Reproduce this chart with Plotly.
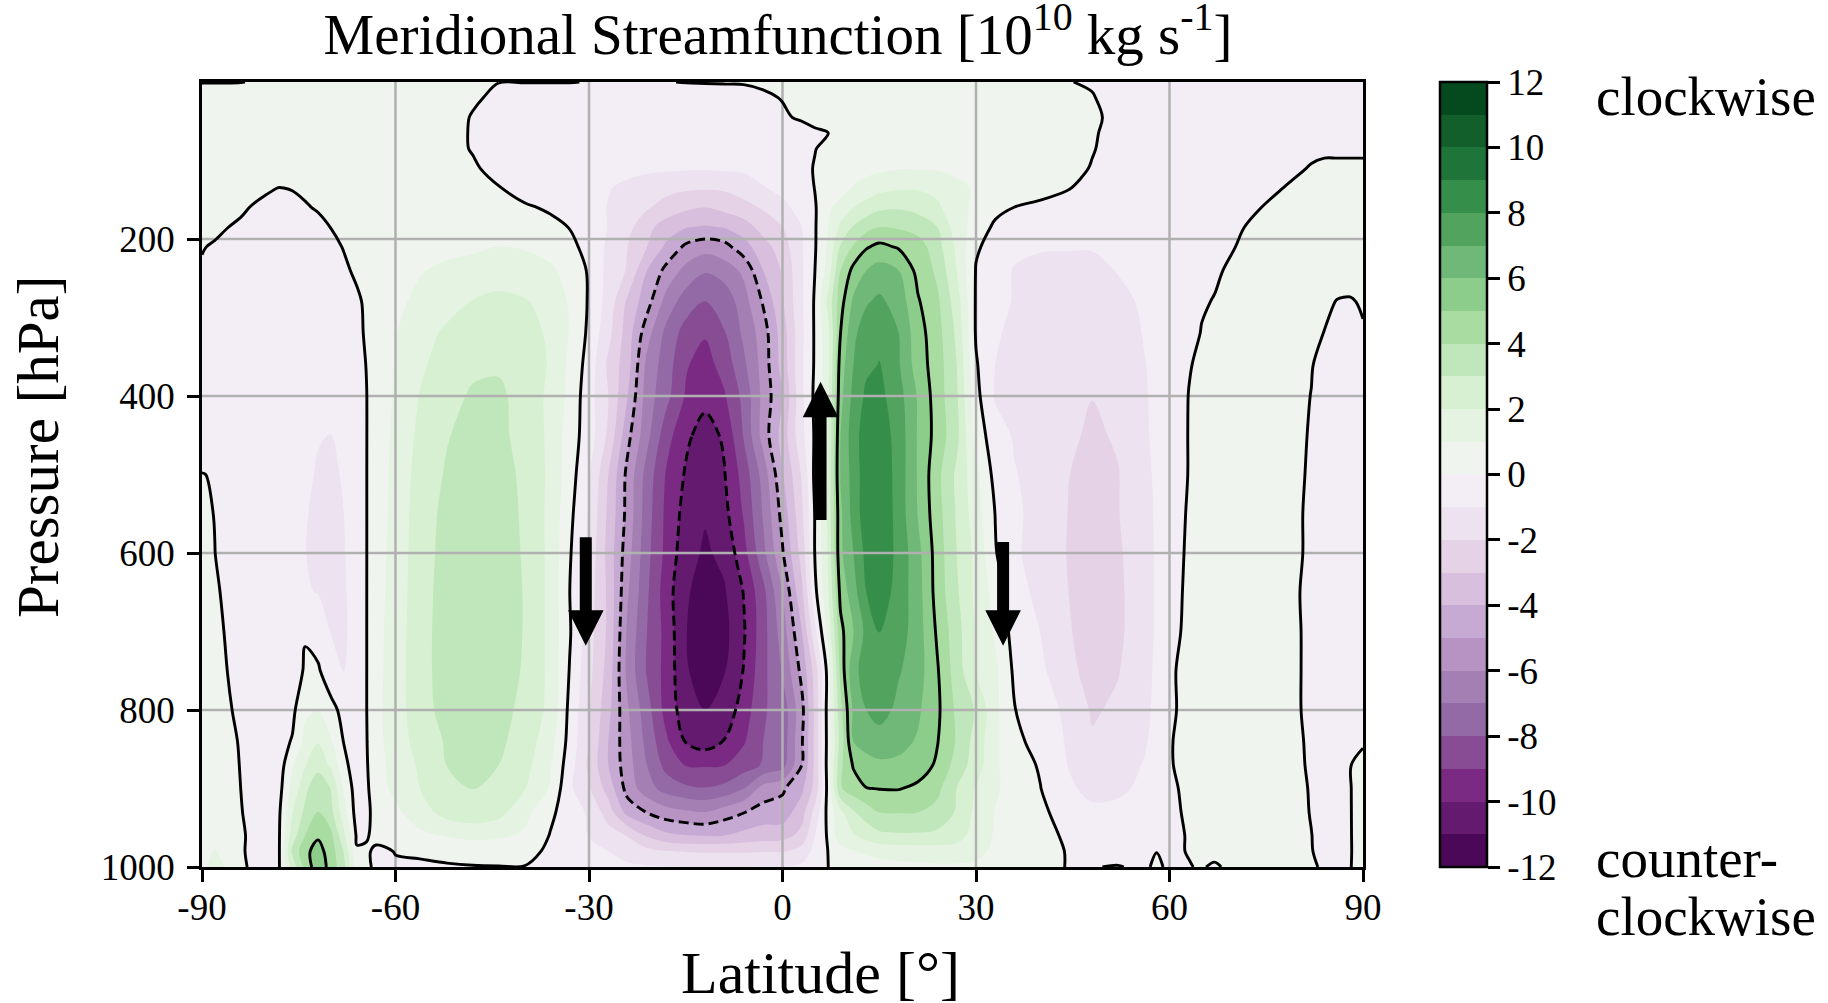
import plotly.graph_objects as go

lat = [-90,-88,-86,-84,-82,-80,-78,-76,-74,-72,-70,-68,-66,-64.5,-63,-60,
       -56,-52,-48,-44,-40,-36,-33,-30,
       -27,-24,-21,-18,-15,-12,-9,-6,-3,0,3,5,7,
       9,11,13,15,18,21,24,27,30,33,36,
       40,44,48,52,56,58,60,63,65,67,70,74,78,82,84,86,88,90]
pressure = [0,20,45,65,85,110,135,160,185,210,240,280,320,360,400,450,500,550,600,650,700,750,800,840,870,900,930,960,980,1000]

psi_0 = [-.02,-.02,-.02,-.01,.02,.05,.05,.05,.05,.05,.05,.05,.05,.05,.05,.05, .05,.05,.1,.01,.01,.01,.01,-.01, -.02,-.02,-.02,-.01,.01,.02,.03,.04,.1,.3,.3,.3,.3, .3,.3,.3,.3,.3,.3,.3,.3,.3,.3,.3, .2,.02,-.05,-.05,-.05,-.05,-.05,-.05,-.05,-.05,-.05,-.05,-.05,-.05,-.05,-.05,-.05,-.05]
psi_20 = [.3,.3,.3,.3,.3,.3,.3,.3,.3,.3,.3,.3,.3,.3,.3,.3, .3,.25,.1,-.15,-.2,-.2,-.2,-.2, -.2,-.2,-.2,-.2,-.2,-.2,-.2,-.2,-.1,.03,.2,.3,.3, .35,.35,.35,.35,.35,.35,.35,.35,.35,.35,.35, .3,.3,.03,-.2,-.25,-.25,-.25,-.25,-.25,-.25,-.25,-.25,-.25,-.25,-.25,-.25,-.3,-.3]
psi_45 = [.3,.3,.3,.3,.3,.3,.3,.3,.3,.3,.3,.3,.3,.3,.3,.3, .35,.3,-.05,-.3,-.3,-.3,-.3,-.3, -.3,-.3,-.3,-.3,-.3,-.3,-.3,-.3,-.3,-.1,.1,.3,.4, .4,.4,.4,.4,.4,.4,.4,.4,.4,.4,.4, .4,.35,.2,-.3,-.3,-.3,-.3,-.3,-.3,-.3,-.3,-.3,-.3,-.3,-.3,-.3,-.3,-.3]
psi_65 = [.3,.3,.3,.3,.3,.3,.3,.3,.3,.3,.3,.3,.3,.3,.3,.3, .35,.2,-.05,-.3,-.3,-.3,-.3,-.3, -.35,-.35,-.35,-.35,-.35,-.35,-.35,-.35,-.35,-.35,-.3,-.15,-.01, .2,.3,.4,.4,.4,.4,.4,.4,.4,.4,.4, .4,.3,.1,-.3,-.3,-.3,-.3,-.3,-.3,-.3,-.3,-.3,-.3,-.2,-.15,-.15,-.15,-.15]
psi_85 = [.35,.35,.35,.35,.35,.35,.35,.35,.35,.35,.35,.35,.35,.35,.35,.35, .35,.2,-.04,-.35,-.35,-.35,-.35,-.35, -.4,-.45,-.5,-.55,-.6,-.6,-.6,-.55,-.5,-.4,-.2,-.03,.2, .3,.4,.5,.6,.65,.6,.55,.5,.45,.4,.4, .4,.3,.05,-.3,-.35,-.35,-.35,-.35,-.35,-.35,-.3,-.3,-.25,-.15,-.12,-.12,-.12,-.12]
psi_110 = [.4,.4,.4,.4,.4,.4,.4,.4,.4,.4,.4,.4,.4,.4,.4,.4, .4,.3,.08,-.2,-.4,-.45,-.5,-.6, -.7,-.75,-.8,-.85,-.9,-.9,-.85,-.8,-.7,-.5,-.25,.05,.25, .4,.55,.7,.8,.95,.95,.9,.8,.7,.6,.55, .5,.3,-.05,-.35,-.4,-.4,-.4,-.4,-.4,-.4,-.35,-.3,-.2,.05,.13,.13,.13,.13]
psi_135 = [.5,.5,.4,.3,.2,.05,-.01,.02,.1,.2,.3,.35,.4,.4,.45,.5, .5,.45,.3,.03,-.3,-.5,-.6,-.8, -.95,-1.2,-1.5,-1.7,-1.85,-1.9,-1.85,-1.6,-1.05,-.8,-.5,.02,.3, .6,1.1,1.4,1.7,1.9,1.9,1.7,1.2,.9,.7,.6, .5,.1,-.4,-.5,-.5,-.5,-.5,-.45,-.42,-.38,-.3,-.15,.02,.2,.25,.3,.3,.3]
psi_160 = [.5,.4,.3,.1,-.05,-.1,-.15,-.12,-.05,.05,.15,.25,.35,.4,.45,.5, .55,.55,.5,.35,.1,-.1,-.4,-.6, -1.05,-1.5,-1.9,-2.4,-2.8,-3,-2.7,-2.3,-1.9,-1.2,-.7,-.1,.8, 1.4,2,2.4,2.8,2.9,2.7,2.2,1.3,.8,.3,-.02, -.3,-.55,-.7,-.7,-.65,-.6,-.55,-.45,-.38,-.32,-.2,-.01,.15,.3,.35,.4,.4,.4]
psi_185 = [.4,.2,.005,-.1,-.2,-.25,-.3,-.3,-.25,-.15,.01,.15,.25,.3,.35,.4, .55,.6,.6,.55,.45,.2,-.02,-.4, -1.05,-1.7,-2.7,-3.5,-3.95,-4.1,-3.95,-3.5,-2.6,-2,-1,-.1,.95, 2.2,3.1,3.7,4,3.9,3.6,3,1.5,.6,-.2,-.5, -.65,-.75,-.8,-.8,-.75,-.7,-.65,-.55,-.5,-.35,-.1,.15,.25,.4,.4,.45,.45,.45]
psi_210 = [.05,-.1,-.2,-.3,-.35,-.4,-.45,-.45,-.4,-.3,-.15,.03,.15,.2,.3,.45, .6,.75,.85,1.02,.95,.6,.2,-.25, -1.2,-2,-3,-4.2,-5.2,-5.6,-5.35,-4.4,-3.4,-2.5,-1.05,-.1,1.1, 3.1,4.1,4.9,5.25,4.9,4.5,3.4,1.8,.1,-.3,-.7, -.9,-.92,-.93,-.9,-.8,-.75,-.7,-.55,-.45,-.3,-.02,.25,.45,.5,.5,.5,.5,.5]
psi_240 = [-.1,-.2,-.3,-.35,-.4,-.45,-.5,-.5,-.45,-.4,-.3,-.1,.1,.2,.3,.6, .95,1.2,1.35,1.4,1.3,1.2,.6,-.1, -1.3,-2.1,-4,-5.3,-6.3,-6.9,-6.5,-5.8,-4,-2.9,-1.1,-.02,1.3, 4,5.3,6,6.4,6,4.7,3.8,2,-.05,-.4,-1.1, -1.3,-1.35,-1.3,-.95,-.85,-.78,-.7,-.55,-.3,-.15,.2,.4,.5,.55,.55,.55,.55,.55]
psi_280 = [-.3,-.35,-.4,-.45,-.5,-.55,-.55,-.55,-.55,-.5,-.45,-.35,-.1,.1,.4,.75, 1.3,1.6,2.05,2.3,2.1,1.6,.9,-.1, -1.4,-3.2,-4.6,-6.4,-7.5,-8.05,-7.7,-6.4,-4.9,-3.1,-1.1,.1,2.2, 4.6,6.2,6.9,7.2,6.6,5.1,4.2,2.5,-.1,-.6,-1.1, -1.5,-1.6,-1.6,-1.3,-.85,-.78,-.7,-.5,-.1,.05,.3,.45,.5,.5,.25,-.05,-.1,.12]
psi_320 = [-.35,-.4,-.45,-.5,-.55,-.6,-.6,-.6,-.6,-.6,-.55,-.45,-.2,.1,.45,.95, 1.6,2.2,2.5,2.75,2.5,1.8,.95,-.2, -1.7,-3.5,-5.6,-7.3,-8.4,-8.9,-8.05,-6.8,-5.5,-3.5,-1.2,.1,1.6, 5,6.8,7.5,7.8,7,5.4,4.4,2.8,-.1,-.9,-1.2, -1.7,-1.8,-1.8,-1.6,-.95,-.8,-.7,-.35,.05,.25,.4,.5,.5,.4,-.03,-.2,-.25,-.1]
psi_360 = [-.4,-.45,-.5,-.55,-.6,-.65,-.65,-.65,-.65,-.65,-.6,-.5,-.25,.02,.5,1.05, 1.85,2.5,2.85,2.9,2.6,1.9,.8,-.4, -2.2,-3.6,-6.3,-7.5,-8.9,-9.4,-8.6,-7.2,-5.6,-3.6,-1.1,.1,1.5, 5.5,7,7.8,8.03,7.1,5.5,4.5,3,.1,-1,-1.3, -1.75,-1.9,-1.95,-1.8,-1.05,-.8,-.6,-.05,.15,.3,.45,.5,.5,.05,-.3,-.4,-.4,-.35]
psi_400 = [-.4,-.5,-.55,-.6,-.65,-.7,-.7,-.7,-.7,-.7,-.65,-.5,-.3,-.02,.5,1.1, 2.1,2.75,3.1,3.15,2.7,1.75,.75,-.6, -2,-4,-6.5,-7.7,-9.1,-9.7,-9.1,-7.7,-5.7,-4,-1.2,.2,1.7, 5.7,7.3,8.2,8.3,7.4,5.9,4.5,3.15,.3,-1.1,-1.4, -1.8,-1.9,-1.98,-1.9,-1.1,-.8,-.55,.02,.2,.35,.45,.5,.4,-.02,-.4,-.45,-.45,-.45]
psi_450 = [-.45,-.5,-.55,-.6,-.65,-.7,-.75,-.8,-.85,-.97,-1.01,-.8,-.4,-.02,.5,1.2, 2.3,2.95,3.3,3.25,2.65,1.8,.5,-.5, -2.2,-4.7,-6.7,-8.6,-9.8,-10.4,-9.85,-7.9,-5.6,-3.6,-1.25,.1,1.9, 6,7.6,8.5,8.6,7.6,5.9,4.6,3.3,.6,-.6,-1.1, -1.5,-1.8,-2.15,-1.9,-1.15,-.8,-.5,.03,.2,.35,.45,.5,.35,-.07,-.5,-.5,-.5,-.5]
psi_500 = [.02,-.05,-.55,-.6,-.65,-.7,-.75,-.8,-.9,-1.05,-1.1,-.95,-.45,-.02,.55,1.25, 2.5,3.1,3.45,3.4,2.8,1.8,.45,-.9, -3,-5.3,-7.4,-9.1,-10.1,-10.8,-10.05,-8.6,-6.6,-4.1,-1.9,.2,2, 6.1,7.4,8.6,8.8,7.6,5.9,4.3,2.8,1.3,-.35,-.95, -1.35,-1.95,-2.3,-2.05,-1.25,-.85,-.5,.03,.2,.35,.45,.5,.3,-.1,-.5,-.55,-.55,-.55]
psi_550 = [.2,-.03,-.55,-.6,-.65,-.7,-.8,-.9,-.95,-1.15,-1.2,-1,-.5,-.02,.55,1.3, 2.6,3.25,3.55,3.5,2.85,1.75,.25,-1.1, -3.2,-5.35,-7.55,-9.25,-10.35,-10.9,-10.3,-8.9,-6.9,-4.65,-2.2,.02,2.1, 5.8,7.4,8.6,8.9,7.6,5.95,4.4,2.9,1.45,-.03,-.8, -1.4,-1.98,-2.4,-2.05,-1.3,-.9,-.5,.1,.25,.35,.45,.5,.3,-.15,-.55,-.6,-.6,-.6]
psi_600 = [.35,.01,-.45,-.6,-.65,-.7,-.8,-.9,-.98,-1.2,-1.25,-1.05,-.55,-.02,.6,1.35, 2.65,3.3,3.6,3.55,2.9,1.75,.1,-1.25, -3.35,-5.6,-7.7,-9.3,-10.6,-11.15,-10.75,-9.35,-7.3,-5.1,-2.6,.01,2, 5.8,7,8.3,8.8,7.7,6.3,4.55,3,1.75,.07,-.85, -1.4,-2,-2.45,-2.15,-1.35,-.9,-.45,.15,.25,.35,.45,.5,.3,-.15,-.6,-.65,-.65,-.65]
psi_650 = [.5,.2,-.3,-.55,-.65,-.7,-.8,-.85,-.9,-1.05,-1.25,-1.1,-.6,-.02,.65,1.4, 2.7,3.35,3.6,3.55,2.95,1.75,.01,-1.5, -3.2,-5.9,-7.85,-9.55,-10.85,-11.5,-11.1,-9.95,-8.3,-6,-3.2,-.3,1.8, 5.3,6.6,8,8.6,7.6,6.4,4.6,3.15,1.75,.6,-.65, -1.25,-1.95,-2.5,-2.2,-1.4,-.9,-.4,.2,.3,.4,.45,.5,.25,-.2,-.65,-.7,-.7,-.7]
psi_700 = [.6,.35,-.15,-.5,-.65,-.7,-.7,-.6,-.05,-.3,-1.05,-1.1,-.7,-.02,.7,1.45, 2.75,3.35,3.6,3.55,2.95,1.75,.1,-1.6, -3.2,-6.2,-8,-9.35,-10.95,-11.7,-11.3,-10.1,-8.4,-6.5,-4,-1.3,1.2, 4.7,6,7.3,8.05,7.5,6.45,4.85,3.4,1.9,.85,-.4, -1.02,-1.85,-2.5,-2.2,-1.4,-.9,-.35,.25,.35,.4,.45,.5,.3,-.2,-.7,-.7,-.75,-.75]
psi_750 = [.65,.4,-.02,-.4,-.6,-.65,-.55,-.35,.08,.08,-.4,-1.02,-.8,-.02,.7,1.5, 2.75,3.35,3.6,3.5,2.9,1.75,-.05,-1.7, -3.4,-6.3,-8.1,-9.35,-10.85,-11.7,-11.05,-9.95,-8.3,-6.9,-4.7,-2.6,.3, 4.3,6.8,7.3,7.5,7.1,6.45,5.1,3.5,2,1.2,-.2, -.8,-1.65,-2.4,-2.05,-1.4,-.8,-.2,.4,.4,.4,.45,.5,.3,-.2,-.7,-.75,-.75,-.8]
psi_800 = [.7,.5,.15,-.3,-.55,-.6,-.45,-.25,.85,1.03,.2,-.2,-.85,-.02,.75,1.5, 2.7,3.3,3.5,3.4,2.7,1.75,-.25,-1.9, -3.7,-5.9,-7.6,-9.4,-10.5,-11,-10.6,-9.55,-8.1,-7.6,-5.3,-2.8,.35, 3.7,6.2,7,7.5,6.7,6.15,5.2,3.8,2.9,1.25,.02, -.35,-1.25,-2.1,-1.85,-1.3,-.75,-.2,.35,.4,.4,.45,.5,.3,-.2,-.7,-.8,-.8,-.8]
psi_840 = [.75,.6,.3,-.1,-.45,-.55,-.35,.07,1.25,1.95,1.1,-.05,-.7,-.05,.75,1.4, 2.5,3.1,3.25,3.2,2.55,1.4,-.35,-2, -4,-5.7,-7.3,-8.85,-10.05,-10.5,-9.95,-9.1,-8,-7.6,-5.1,-2.8,.3, 3.4,6,6.3,6.45,6.3,5.9,5.05,3.9,2.6,1.2,.3, -.45,-1.05,-1.9,-1.8,-1.15,-.65,-.1,.45,.45,.45,.45,.5,.35,-.15,-.6,-.8,-.8,-.2]
psi_870 = [.8,.7,.4,-.05,-.4,-.5,-.5,.9,1.95,2.55,1.85,.3,-.6,-.1,.7,1.3, 2.2,3.03,3.15,3,2.35,1.1,-.55,-2.2, -4,-5.6,-7,-8.35,-9.05,-9.1,-9.03,-8.5,-7.9,-7.4,-5,-2.8,.35, 3.8,5.1,5.7,5.85,5.8,5.5,4.85,3.6,2.5,1.15,.45, -.1,-.98,-1.5,-1.45,-.95,-.55,-.1,.4,.5,.5,.5,.5,.3,-.1,-.5,-.8,-.05,.5]
psi_900 = [.8,.75,.5,0,-.35,-.45,-.3,1.3,2.7,3.9,2.95,.85,-.5,-.2,.65,1.2, 2.05,2.65,3.03,2.8,2.05,.9,-.8,-1.9, -3.4,-5.4,-6.6,-7.4,-7.8,-7.95,-7.7,-7,-5.6,-5.15,-4.2,-2.7,.25, 3.9,4.55,4.97,5.03,5.05,4.8,4.25,3,1.9,1.15,.55, .02,-.85,-1.2,-1.15,-.85,-.55,-.25,.3,.45,.5,.5,.45,.3,-.05,-.4,-.6,-.05,.5]
psi_930 = [.85,.8,.6,.05,-.3,-.4,-.1,1.95,3.25,4,3.3,1.4,-.45,-.3,.45,.8, 1.6,2.4,2.7,2.35,1.3,.2,-.5,-1.15, -2.5,-4.4,-5.05,-5.6,-5.85,-6,-5.5,-5.05,-4.6,-4.6,-3.4,-1.7,.25, 1.8,2.9,3.5,4.02,4.05,4.02,3.7,2.9,1.75,.95,.6, .15,-.3,-.85,-.8,-.6,-.45,-.3,.2,.45,.5,.5,.45,.3,-.03,-.3,-.5,-.05,.45]
psi_960 = [.85,.9,.85,.15,-.25,-.35,-.02,2.5,4,4.85,4.25,2.2,-.15,-.1,.3,.45, .8,1.05,1.25,1.15,.85,-.05,-.5,-1.02, -1.55,-2.05,-3.1,-3.75,-3.95,-4.05,-4,-3.7,-3.5,-3.4,-2.7,-1,.1, 1.6,1.9,2.35,2.75,2.85,2.85,2.75,2.45,1.55,.9,.6, .3,-.12,-.4,-.5,-.4,-.35,-.3,.08,.45,.5,.5,.45,.3,.01,-.2,-.4,-.05,.4]
psi_980 = [.9,1.02,.9,.1,-.2,-.3,0,3.2,4.75,5.4,4.5,2.95,.1,.15,-.2,.03, .15,.3,.4,.4,.35,-.2,-.5,-.85, -1,-1.35,-1.7,-1.95,-2.05,-2.1,-2.1,-2.1,-2.05,-2.05,-1.6,-.7,-.01, .6,.95,1.15,1.3,1.4,1.45,1.5,1.5,1.2,.85,.5, .25,-.02,-.2,-.25,-.15,-.01,-.2,.05,.3,.45,.45,.4,.3,.02,-.15,-.3,-.05,.35]
psi_1000 = [.9,1.15,.95,.1,-.1,-.2,-.01,2.4,4.3,5.7,4.6,3.3,.5,.2,-.2,-.1, -.15,-.1,-.05,-.03,-.03,-.4,-.6,-.7, -.8,-.85,-.9,-.95,-1,-1.02,-1,-1,-.95,-.95,-.8,-.4,-.01, .2,.4,.55,.65,.75,.8,.85,.85,.85,.7,.5, .3,-.02,-.02,.03,-.1,.1,-.1,-.05,.1,-.2,.4,.4,.3,.05,-.05,-.2,-.03,.3]

rows = [psi_0,psi_20,psi_45,psi_65,psi_85,psi_110,psi_135,psi_160,psi_185,psi_210,psi_240,psi_280,psi_320,psi_360,psi_400,
        psi_450,psi_500,psi_550,psi_600,psi_650,psi_700,psi_750,psi_800,psi_840,psi_870,psi_900,psi_930,psi_960,psi_980,psi_1000]
for p, r in zip(pressure, rows):
    assert len(r) == len(lat), (p, len(r), len(lat))

band_colors = ["#4c0858","#631a6f","#7b2a84","#874c94","#9369a6","#a37fb3","#b693c3","#c6aad3","#d8bfdd","#e5d2e6","#ede2ef","#f3eef5",
               "#f0f4ef","#e5f3e2","#d7f0d2","#c0e7bb","#a9dca0","#8dcd8b","#6fb877","#51a35e","#358e4a","#1f7439","#125f2c","#054a1e"]
lat_ticks = [-90,-60,-30,0,30,60,90]
lat_labels = ["-90","-60","-30","0","30","60","90"]
p_ticks = [200,400,600,800,1000]
cb_ticks = [-12,-10,-8,-6,-4,-2,0,2,4,6,8,10,12]
cb_labels = ["-12","-10","-8","-6","-4","-2","0","2","4","6","8","10","12"]
arrow_lat = [-30.5, 5.9, 34.2]
arrow_tail = [580, 558, 586]
arrow_tip = [718, 382, 718]

FONT = "Liberation Serif"
n = len(band_colors)
colorscale = []
for i, c in enumerate(band_colors):
    colorscale += [[i/n, c], [(i+1)/n, c]]

fig = go.Figure()
fig.add_trace(go.Contour(
    x=lat, y=pressure, z=rows, zmin=-12, zmax=12, colorscale=colorscale,
    contours=dict(coloring="fill", start=-12, end=12, size=1, showlines=False),
    line=dict(width=0), hoverinfo="skip",
    colorbar=dict(x=(1440-202)/1161, xanchor="left", xpad=0, y=0.5, yanchor="middle", ypad=0,
                  len=1, lenmode="fraction", thickness=47, thicknessmode="pixels",
                  outlinecolor="black", outlinewidth=2.5,
                  tickmode="array", tickvals=cb_ticks, ticktext=cb_labels, ticks="outside",
                  ticklen=12, tickwidth=2.5, tickcolor="black",
                  tickfont=dict(family=FONT, size=37, color="black")),
))
for v in lat_ticks[1:-1]:
    fig.add_trace(go.Scatter(x=[v, v], y=[0, 1000], mode="lines", line=dict(color="#b0b0b0", width=2.5),
                             showlegend=False, hoverinfo="skip"))
for v in p_ticks[:-1]:
    fig.add_trace(go.Scatter(x=[-90, 90], y=[v, v], mode="lines", line=dict(color="#b0b0b0", width=2.5),
                             showlegend=False, hoverinfo="skip"))

for start, end, dash in [(0, 0, "solid"), (5, 5, "solid"), (-10, -5, "10px,5px")]:
    fig.add_trace(go.Contour(
        x=lat, y=pressure, z=rows, xaxis="x2", yaxis="y2", showscale=False, hoverinfo="skip",
        contours=dict(coloring="none", start=start, end=end, size=5 if start != end else 1),
        line=dict(color="black", width=2.9, dash=dash),
    ))

shapes = []
for la, tail, tip in zip(arrow_lat, arrow_tail, arrow_tip):
    sgn = 1 if tip > tail else -1
    base = tip - sgn*45
    h, s = 2.76, 0.93
    path = (f"M{la-s},{tail} L{la+s},{tail} L{la+s},{base} L{la+h},{base} L{la},{tip} "
            f"L{la-h},{base} L{la-s},{base} Z")
    shapes.append(dict(type="path", path=path, xref="x", yref="y", fillcolor="black",
                       line=dict(width=0), layer="above"))

def txt(s, x, y, size=55, **kw):
    return dict(text=s, x=(x-202)/1161, y=(867-y)/785, xref="paper", yref="paper", showarrow=False,
                font=dict(family=FONT, size=size, color="black"), **kw)

fig.update_layout(
    width=1828, height=1003, autosize=False,
    margin=dict(l=202, r=465, t=82, b=136, pad=0),
    paper_bgcolor="white", plot_bgcolor="white", showlegend=False,
    title=dict(text="Meridional Streamfunction [10<sup>10</sup> kg s<sup>-1</sup>]",
               x=778/1828, xanchor="center", y=1-34/1003, yanchor="middle",
               font=dict(family=FONT, size=57, color="black")),
    xaxis=dict(range=[-90, 90], tickmode="array", tickvals=lat_ticks, ticktext=lat_labels, ticks="outside",
               ticklen=12, tickwidth=2.5, tickcolor="black", showgrid=False, zeroline=False, ticklabelstandoff=-6,
               showline=True, linecolor="black", linewidth=2.5, mirror=True,
               tickfont=dict(family=FONT, size=37, color="black")),
    yaxis=dict(range=[1000, 0], tickmode="array", tickvals=p_ticks, ticktext=[str(v) for v in p_ticks], ticks="outside",
               ticklen=12, tickwidth=2.5, tickcolor="black", showgrid=False, zeroline=False, ticklabelstandoff=5,
               showline=True, linecolor="black", linewidth=2.5, mirror=True,
               tickfont=dict(family=FONT, size=37, color="black")),
    xaxis2=dict(range=[-90, 90], overlaying="x", visible=False),
    yaxis2=dict(range=[1000, 0], overlaying="y", visible=False),
    shapes=shapes,
    annotations=[
        txt("Latitude [°]", 820, 973, size=60, xanchor="center", yanchor="middle"),
        txt("Pressure [hPa]", 38, 447, size=59, textangle=-90, xanchor="center", yanchor="middle"),
        txt("clockwise", 1594, 96, xanchor="left", yanchor="middle"),
        txt("counter-", 1594, 858, xanchor="left", yanchor="middle"),
        txt("clockwise", 1594, 916, xanchor="left", yanchor="middle"),
    ],
)
fig.write_html("out.html", config=dict(displayModeBar=False), post_script="document.body.style.margin='0';")
